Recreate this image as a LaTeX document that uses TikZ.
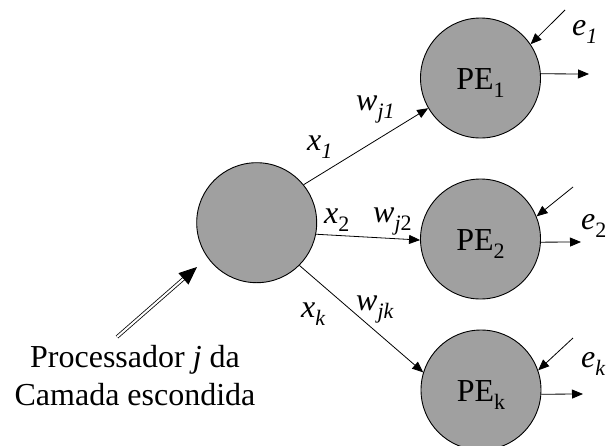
\documentclass[tikz,border=0pt]{standalone}
\usepackage{fontspec}
\setmainfont{Liberation Serif}
\usetikzlibrary{arrows.meta}
\definecolor{nfill}{RGB}{160,160,160}
\newcommand\mysub[1]{\raisebox{-0.26em}{\fontsize{22}{22}\selectfont #1}}
\begin{document}
\begin{tikzpicture}[x=1pt,y=-1pt,
  neuron/.style={circle,draw,line width=0.9pt,fill=nfill,minimum size=120pt,inner sep=0pt,text height=22pt,text depth=0pt},
  conn/.style={line width=0.8pt,-{Triangle[length=11pt,width=9pt]}},
  dbl/.style={double,double distance=2pt,line width=0.8pt,-{Triangle[length=18pt,width=15pt]}},
  lbl/.style={anchor=base west,inner sep=0pt},
  font=\fontsize{32}{38}\selectfont]
\useasboundingbox (0,0) rectangle (608,445);

\node[neuron] (h) at (256.7,222.7) {};
\node[neuron] (pe1) at (480.5,78) {PE\mysub{1}};
\node[neuron] (pe2) at (480.5,239) {PE\mysub{2}};
\node[neuron] (pek) at (481,390) {PE\mysub{k}};

% hidden -> outputs
\draw[conn] (h.39) -- (pe1.210);
\draw[conn] (h.-11) -- (pe2.181);
\draw[conn] (h.-45) -- (pek.163);

% error inputs
\coordinate (e1s) at (565,10);
\coordinate (e2s) at (573,187);
\coordinate (eks) at (573,338);
\draw[conn] (e1s) -- (pe1.34);
\draw[conn] (e2s) -- (pe2.22);
\draw[conn] (eks) -- (pek.19);

% outputs
\coordinate (o1) at (589,74);
\coordinate (o2) at (581,242);
\coordinate (ok) at (583,394);
\draw[conn] (pe1.4) -- (o1);
\draw[conn] (pe2.-3) -- (o2);
\draw[conn] (pek.-4) -- (ok);

% labels
\node[lbl] (lx1) at (307,150) {\textit{x}\mysub{\textit{1}}};
\node[lbl] (lw1) at (356,110) {\textit{w}\mysub{\textit{j1}}};
\node[lbl] (lx2) at (324,223) {\textit{x}\mysub{2}};
\node[lbl] (lw2) at (373,222) {\textit{w}\mysub{\textit{j}2}};
\node[lbl] (lxk) at (301,317) {\textit{x}\mysub{\textit{k}}};
\node[lbl] (lwk) at (356,310) {\textit{w}\mysub{\textit{jk}}};
\node[lbl] (le1) at (572,35) {\textit{e}\mysub{\textit{1}}};
\node[lbl] (le2) at (581,229) {\textit{e}\mysub{2}};
\node[lbl] (lek) at (581,367) {\textit{e}\mysub{\textit{k}}};

% caption
\node[anchor=base,inner sep=0pt] (t1) at (135,367) {Processador \textit{j} da};
\node[anchor=base,inner sep=0pt] (t2) at (135,405) {Camada escondida};
\coordinate (dtail) at (117,337);
\coordinate (dtip) at (197,267);
\draw[dbl] (dtail) -- (dtip);
\end{tikzpicture}
\end{document}
